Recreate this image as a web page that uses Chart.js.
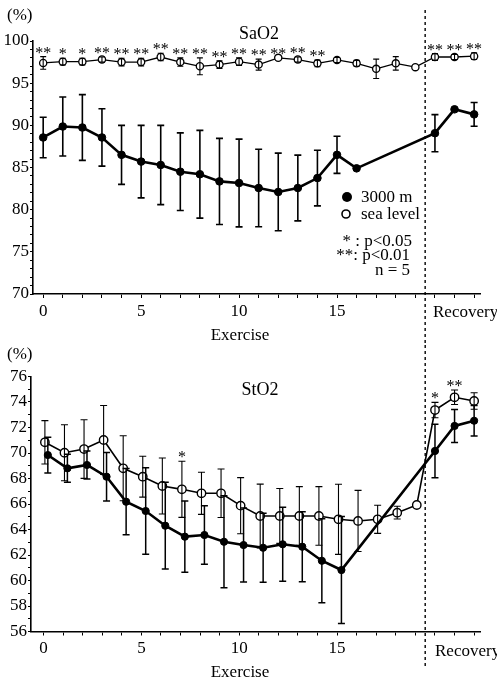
<!DOCTYPE html>
<html>
<head>
<meta charset="utf-8">
<script src="https://cdn.jsdelivr.net/npm/chart.js@4.4.0/dist/chart.umd.min.js"></script>
<style>
  body { margin: 0; background: #fff; }
  #wrap { position: relative; width: 497px; height: 682px; }
  #saChart { position: absolute; left: 0; top: 0; }
  #stChart { position: absolute; left: 0; top: 345px; }
</style>
</head>
<body>
<div id="wrap">
  <canvas id="saChart" width="497" height="345"></canvas>
  <canvas id="stChart" width="497" height="337"></canvas>
</div>
<script>
// x positions: exercise minutes 0..19, recovery 20..22
const recoveryX = [20, 21, 22];
const xTicks = [0, 1, 2, 3, 4, 5, 6, 7, 8, 9, 10, 11, 12, 13, 14, 15, 16, 17, 18, 19, 20, 21, 22];
const xLabels = [0, 5, 10, 15];

// SaO2 (%)
const saSea = [97.4, 97.55, 97.55, 97.8, 97.5, 97.5, 98.1, 97.5, 97.0, 97.2, 97.55, 97.2, 98.0, 97.8, 97.35, 97.75, 97.35, 96.7, 97.35, 96.9];
const saSeaSD = [0.75, 0.4, 0.4, 0.3, 0.45, 0.45, 0.45, 0.5, 1.0, 0.45, 0.45, 0.65, 0, 0.3, 0.4, 0.3, 0.35, 1.15, 0.8, 0];
const saSeaRec = [98.1, 98.1, 98.2];
const saSeaRecSD = [0.4, 0.3, 0.4];
const sa3000 = [88.56, 89.86, 89.74, 88.56, 86.5, 85.7, 85.3, 84.5, 84.2, 83.35, 83.16, 82.57, 82.1, 82.57, 83.75, 86.5, 84.9];
const sa3000SD = [2.4, 3.5, 3.9, 3.4, 3.5, 4.3, 4.7, 4.6, 5.2, 5.1, 5.2, 4.6, 4.6, 3.9, 3.3, 2.2, 0];
const sa3000Rec = [89.07, 91.9, 91.3];
const sa3000RecSD = [2.2, 0, 1.4];
const saStars = ['**', '*', '*', '**', '**', '**', '**', '**', '**', '**', '**', '**', '**', '**', '**', '', '', '', '', ''];
const saRecStars = ['**', '**', '**'];

// StO2 (%)
const stSea = [70.84, 70.02, 70.31, 71.02, 68.8, 68.14, 67.41, 67.15, 66.84, 66.84, 65.87, 65.06, 65.06, 65.06, 65.06, 64.8, 64.67, 64.8, 65.32, 65.92];
const stSeaSD = [1.7, 2.2, 2.3, 2.7, 2.55, 1.6, 2.2, 2.2, 1.65, 1.9, 2.2, 2.5, 2.15, 2.3, 2.3, 2.75, 2.4, 1.1, 0.5, 0];
const stSeaRec = [73.37, 74.37, 74.08];
const stSeaRecSD = [0.6, 0.57, 0.65];
const st3000 = [69.84, 68.8, 69.06, 68.14, 66.18, 65.45, 64.3, 63.44, 63.57, 63.04, 62.78, 62.57, 62.84, 62.65, 61.55, 60.82];
const st3000SD = [1.4, 1.1, 1.1, 1.9, 2.6, 3.4, 3.4, 2.8, 2.3, 3.6, 2.9, 2.7, 2.9, 2.75, 3.3, 4.2];
const st3000Rec = [70.16, 72.12, 72.53];
const st3000RecSD = [2.1, 1.3, 1.2];
const stStars = ['', '', '', '', '', '', '', '*', '', '', '', '', '', '', '', '', '', '', '', ''];
const stRecStars = ['*', '**', ''];

const serif = '"Liberation Serif", "Times New Roman", serif';

function toPoints(values, start, shift) {
  return values.map((v, i) => ({ x: start + i + shift, y: v }));
}

// draws mean ± SD whiskers for every dataset that has an errors array
const errorBars = {
  id: 'errorBars',
  afterDatasetsDraw(chart) {
    const ctx = chart.ctx;
    const yScale = chart.scales.y;
    chart.data.datasets.forEach((ds, i) => {
      const meta = chart.getDatasetMeta(i);
      ctx.save();
      ctx.strokeStyle = '#000';
      ctx.lineWidth = ds.errWidth;
      meta.data.forEach((pt, j) => {
        const sd = ds.errors[j];
        if (!sd) return;
        const v = ds.data[j].y;
        const yTop = yScale.getPixelForValue(v + sd);
        const yBot = yScale.getPixelForValue(v - sd);
        const cap = ds.capHalf;
        ctx.beginPath();
        ctx.moveTo(pt.x, yTop); ctx.lineTo(pt.x, yBot);
        ctx.moveTo(pt.x - cap, yTop); ctx.lineTo(pt.x + cap, yTop);
        ctx.moveTo(pt.x - cap, yBot); ctx.lineTo(pt.x + cap, yBot);
        ctx.stroke();
      });
      ctx.restore();
    });
  }
};

// significance asterisks above the sea level error bars
const starMarks = {
  id: 'starMarks',
  afterDatasetsDraw(chart) {
    const ctx = chart.ctx;
    const yScale = chart.scales.y;
    chart.data.datasets.forEach((ds, i) => {
      if (!ds.stars) return;
      const meta = chart.getDatasetMeta(i);
      ctx.save();
      ctx.fillStyle = '#000';
      ctx.font = '16px ' + serif;
      ctx.textAlign = 'center';
      ctx.textBaseline = 'alphabetic';
      meta.data.forEach((pt, j) => {
        const s = ds.stars[j];
        if (!s) return;
        const top = yScale.getPixelForValue(ds.data[j].y + (ds.errors[j] || 0));
        ctx.fillText(s, pt.x, top + 1);
      });
      ctx.restore();
    });
  }
};

// dashed separator between exercise and recovery, plus free text
const decorations = {
  id: 'decorations',
  afterDraw(chart) {
    const d = chart.options.plugins.decorations;
    const ctx = chart.ctx;
    const x = chart.scales.x.getPixelForValue(19.5);
    ctx.save();
    ctx.strokeStyle = '#000';
    ctx.lineWidth = 1.4;
    ctx.setLineDash([3, 3]);
    ctx.beginPath();
    ctx.moveTo(x, d.dashTop);
    ctx.lineTo(x, d.dashBottom);
    ctx.stroke();
    ctx.setLineDash([]);
    ctx.fillStyle = '#000';
    ctx.textBaseline = 'middle';
    d.texts.forEach(t => {
      ctx.font = (t.size || 17) + 'px ' + serif;
      ctx.textAlign = t.align || 'left';
      ctx.fillText(t.text, t.x, t.y);
    });
    (d.markers || []).forEach(m => {
      ctx.beginPath();
      ctx.arc(m.x, m.y, m.r, 0, Math.PI * 2);
      ctx.lineWidth = 1.6;
      if (m.filled) ctx.fill(); else ctx.stroke();
    });
    ctx.restore();
  }
};

function buildOptions(cfg) {
  const font = { family: serif, size: 17 };
  return {
    responsive: false,
    animation: false,
    layout: { padding: { top: cfg.padTop, right: 17, left: 0, bottom: 0 } },
    plugins: {
      legend: { display: false },
      tooltip: { enabled: false },
      decorations: cfg.decorations
    },
    scales: {
      x: {
        type: 'linear',
        min: cfg.xMin,
        max: 22.3,
        afterBuildTicks: s => { s.ticks = xTicks.map(v => ({ value: v })); },
        afterFit: s => { s.height = cfg.xHeight; },
        grid: { drawOnChartArea: false, color: '#000', tickLength: 4 },
        border: { color: '#000', width: 1.6 },
        ticks: {
          font, color: '#000', padding: 3, maxRotation: 0, autoSkip: false,
          callback: v => xLabels.includes(v) ? String(v) : ''
        }
      },
      y: {
        min: cfg.yMin,
        max: cfg.yMax,
        afterFit: s => { s.width = cfg.yWidth; },
        grid: { drawOnChartArea: false, color: '#000', tickLength: 3 },
        border: { color: '#000', width: 1.6 },
        ticks: {
          font, color: '#000', padding: 1, stepSize: 1, autoSkip: false,
          callback: v => v % cfg.yLabelStep === 0 ? String(v) : ''
        }
      }
    }
  };
}

function seriesDataset(values, recValues, sd, recSd, stars, recStars, shift, filled, style) {
  return {
    data: toPoints(values, 0, shift).concat(toPoints(recValues, recoveryX[0], 0)),
    errors: sd.concat(recSd),
    stars: stars ? stars.concat(recStars) : null,
    borderColor: '#000',
    borderWidth: style.line,
    pointRadius: style.radius,
    pointBorderWidth: style.pointBorder,
    pointBackgroundColor: filled ? '#000' : '#fff',
    pointBorderColor: '#000',
    errWidth: style.err,
    capHalf: style.cap,
    tension: 0
  };
}

window.addEventListener('DOMContentLoaded', () => {
  // SaO2 panel
  new Chart(document.getElementById('saChart'), {
    type: 'line',
    data: {
      datasets: [
        seriesDataset(sa3000, sa3000Rec, sa3000SD, sa3000RecSD, null, null, 0, true,
          { line: 2.6, radius: 3.8, pointBorder: 1, err: 1.6, cap: 3.5 }),
        seriesDataset(saSea, saSeaRec, saSeaSD, saSeaRecSD, saStars, saRecStars, 0, false,
          { line: 1.3, radius: 3.6, pointBorder: 1.3, err: 1.1, cap: 3 })
      ]
    },
    options: buildOptions({
      padTop: 41, xHeight: 51, yWidth: 33, xMin: -0.52, yMin: 70, yMax: 100, yLabelStep: 5,
      decorations: {
        dashTop: 10, dashBottom: 345,
        texts: [
          { text: '(%)', x: 7, y: 16 },
          { text: 'SaO2', x: 259, y: 34, align: 'center', size: 18 },
          { text: 'Exercise', x: 240, y: 336, align: 'center' },
          { text: 'Recovery', x: 433, y: 313 },
          { text: '3000 m', x: 361, y: 198 },
          { text: 'sea level', x: 361, y: 215 },
          { text: '* : p<0.05', x: 412, y: 242, align: 'right' },
          { text: '**: p<0.01', x: 410, y: 256, align: 'right' },
          { text: 'n = 5', x: 410, y: 271, align: 'right' }
        ],
        markers: [
          { x: 347, y: 197, r: 5, filled: true },
          { x: 346, y: 214, r: 4, filled: false }
        ]
      }
    }),
    plugins: [errorBars, starMarks, decorations]
  });

  // StO2 panel
  new Chart(document.getElementById('stChart'), {
    type: 'line',
    data: {
      datasets: [
        seriesDataset(st3000, st3000Rec, st3000SD, st3000RecSD, null, null, 0.22, true,
          { line: 2.6, radius: 3.6, pointBorder: 1, err: 1.5, cap: 3.5 }),
        seriesDataset(stSea, stSeaRec, stSeaSD, stSeaRecSD, stStars, stRecStars, 0.07, false,
          { line: 1.6, radius: 4.2, pointBorder: 1.4, err: 1.1, cap: 3.5 })
      ]
    },
    options: buildOptions({
      padTop: 31.5, xHeight: 50.5, yWidth: 31, xMin: -0.64, yMin: 56, yMax: 76, yLabelStep: 2,
      decorations: {
        dashTop: 0, dashBottom: 322,
        texts: [
          { text: '(%)', x: 7, y: 10 },
          { text: 'StO2', x: 260, y: 45, align: 'center', size: 18 },
          { text: 'Exercise', x: 240, y: 328, align: 'center' },
          { text: 'Recovery', x: 435, y: 307 }
        ]
      }
    }),
    plugins: [errorBars, starMarks, decorations]
  });
});
</script>
</body>
</html>
